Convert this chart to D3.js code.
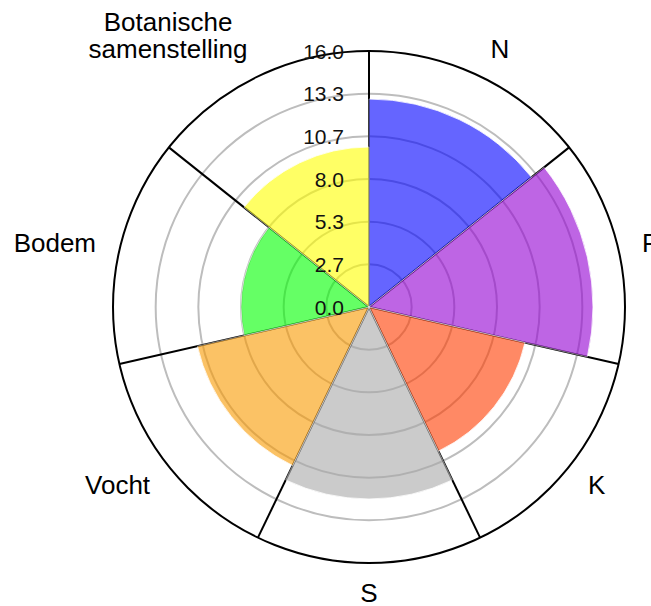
<!DOCTYPE html>
<html>
<head>
<meta charset="utf-8">
<script src="https://cdn.jsdelivr.net/npm/d3@7"></script>
<style>
  body { margin: 0; background: #fff; }
  svg { display: block; font-family: "Liberation Sans", Arial, sans-serif; }
</style>
</head>
<body>
<div id="chart"></div>
<script>
// categories clockwise from north, one bar each
var categories = ["N", "P", "K", "S", "Vocht", "Bodem", "Botanische samenstelling"];
var values = [13, 14, 10, 12, 11, 8, 10];
var barColors = ["#0000ff", "#9400d3", "#ff3c00", "#a9a9a9", "#fa9a00", "#00ff00", "#ffff00"];
var radialMax = 16;
var radialTicks = [0, 2.667, 5.333, 8, 10.667, 13.333, 16];

var width = 651, height = 606;
var cx = 369, cy = 307, R = 256;

var svg = d3.select("#chart").append("svg")
    .attr("width", width).attr("height", height);
var g = svg.append("g").attr("transform", "translate(" + cx + "," + cy + ")");

var x = d3.scaleBand().domain(categories).range([0, 2 * Math.PI]).padding(0);
var r = d3.scaleLinear().domain([0, radialMax]).range([0, R]);

// grey grid rings
g.append("g").selectAll("circle").data(radialTicks.slice(1, -1)).enter()
    .append("circle")
    .attr("r", function(d) { return r(d); })
    .attr("fill", "none").attr("stroke", "#bdbdbd").attr("stroke-width", 2);

// spokes at the sector borders
g.append("g").selectAll("line").data(categories).enter()
    .append("line")
    .attr("x1", 0).attr("y1", 0)
    .attr("x2", function(d) { return R * Math.sin(x(d)); })
    .attr("y2", function(d) { return -R * Math.cos(x(d)); })
    .attr("stroke", "#000").attr("stroke-width", 2);

// outer circle
g.append("circle").attr("r", R)
    .attr("fill", "none").attr("stroke", "#000").attr("stroke-width", 2);

// bars
var arc = d3.arc()
    .innerRadius(0)
    .outerRadius(function(d) { return r(d.value); })
    .startAngle(function(d) { return x(d.cat); })
    .endAngle(function(d) { return x(d.cat) + x.bandwidth(); });

g.append("g").selectAll("path")
    .data(categories.map(function(c, i) { return {cat: c, value: values[i], color: barColors[i]}; }))
    .enter().append("path")
    .attr("d", arc)
    .attr("fill", function(d) { return d.color; })
    .attr("stroke", "#fff").attr("stroke-width", 0.8)
    .attr("opacity", 0.6);

// radial tick labels along the north axis
g.append("g").selectAll("text").data(radialTicks).enter()
    .append("text")
    .attr("x", -25)
    .attr("y", function(d) { return -r(d); })
    .attr("text-anchor", "end")
    .attr("dominant-baseline", "central")
    .attr("font-size", 21)
    .attr("fill", "#111")
    .text(function(d) { return d3.format(".1f")(d); });

// category labels outside the circle
var lx = 280, ly = 286, lineH = 27.5;
var labels = g.append("g").selectAll("text").data(categories).enter()
    .append("text")
    .attr("font-size", 26)
    .attr("fill", "#000")
    .attr("text-anchor", "middle")
    .attr("dominant-baseline", "central");

labels.each(function(d) {
    var t = d3.select(this);
    var lines = d.split(" ");
    lines.forEach(function(l) { t.append("tspan").text(l); });
    var w = 0;
    t.selectAll("tspan").each(function() { w = Math.max(w, this.getComputedTextLength()); });
    var a = x(d) + x.bandwidth() / 2, s = Math.sin(a), c = Math.cos(a);
    var px = lx * s, py = -ly * c;
    if (s > 0.1) px += w / 2; else if (s < -0.1) px -= w / 2;
    var y0 = c > 0 ? py - (lines.length - 1) * lineH : py;
    t.selectAll("tspan")
        .attr("x", px)
        .attr("y", function(l, i) { return y0 + i * lineH; });
});
</script>
</body>
</html>
